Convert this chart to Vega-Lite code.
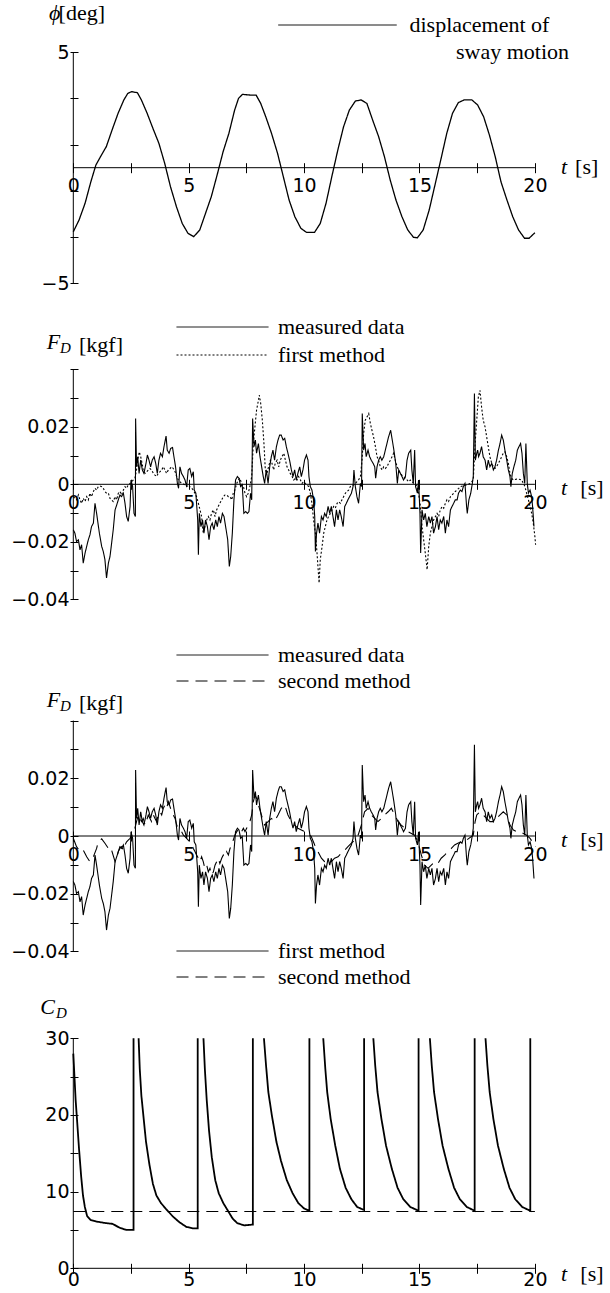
{
"$schema": "https://vega.github.io/schema/vega-lite/v6.json",
"padding": 0,
"background": "white",
"bounds": "flush",
"spacing": 0,
"config": {"view": {"stroke": null}, "line": {"color": "black"}, "rule": {"color": "black"}, "text": {"color": "black"},
  "axis": {"domain": false, "grid": false, "tickColor": "black", "tickWidth": 1, "labelColor": "black", "labelFont": "DejaVu Sans", "labelFontSize": 19, "labelOverlap": false, "labelFlush": false, "labelBound": false}},
"resolve": {"scale": {"x": "independent", "y": "independent", "strokeDash": "independent"}, "axis": {"x": "independent", "y": "independent"}, "legend": {"strokeDash": "independent"}},
"datasets": {
"sway": [{"t":0,"v":-2.77},{"t":0.25,"v":-2.26},{"t":0.51,"v":-1.54},{"t":0.76,"v":-0.61},{"t":0.98,"v":0.12},{"t":1.18,"v":0.48},{"t":1.43,"v":0.91},{"t":1.68,"v":1.63},{"t":1.94,"v":2.35},{"t":2.19,"v":2.93},{"t":2.36,"v":3.21},{"t":2.53,"v":3.29},{"t":2.78,"v":3.24},{"t":2.95,"v":2.93},{"t":3.2,"v":2.35},{"t":3.45,"v":1.7},{"t":3.71,"v":1.05},{"t":3.96,"v":0.19},{"t":4.21,"v":-0.82},{"t":4.47,"v":-1.69},{"t":4.72,"v":-2.41},{"t":4.97,"v":-2.84},{"t":5.22,"v":-2.98},{"t":5.48,"v":-2.69},{"t":5.73,"v":-1.97},{"t":5.98,"v":-1.25},{"t":6.23,"v":-0.32},{"t":6.49,"v":0.69},{"t":6.74,"v":1.48},{"t":6.99,"v":2.49},{"t":7.16,"v":3.0},{"t":7.33,"v":3.17},{"t":7.67,"v":3.14},{"t":7.92,"v":3.14},{"t":8.12,"v":2.78},{"t":8.34,"v":2.2},{"t":8.59,"v":1.48},{"t":8.85,"v":0.62},{"t":9.1,"v":-0.39},{"t":9.35,"v":-1.4},{"t":9.6,"v":-2.12},{"t":9.86,"v":-2.62},{"t":10.11,"v":-2.8},{"t":10.45,"v":-2.8},{"t":10.7,"v":-2.41},{"t":10.95,"v":-1.54},{"t":11.2,"v":-0.39},{"t":11.46,"v":0.76},{"t":11.71,"v":1.77},{"t":11.96,"v":2.49},{"t":12.22,"v":2.88},{"t":12.47,"v":2.93},{"t":12.72,"v":2.78},{"t":12.97,"v":2.06},{"t":13.23,"v":1.34},{"t":13.48,"v":0.48},{"t":13.73,"v":-0.53},{"t":13.98,"v":-1.4},{"t":14.24,"v":-2.12},{"t":14.49,"v":-2.69},{"t":14.74,"v":-3.01},{"t":14.91,"v":-3.03},{"t":15.16,"v":-2.69},{"t":15.42,"v":-1.83},{"t":15.67,"v":-0.75},{"t":15.92,"v":0.33},{"t":16.18,"v":1.48},{"t":16.43,"v":2.35},{"t":16.68,"v":2.81},{"t":16.93,"v":2.93},{"t":17.27,"v":2.93},{"t":17.52,"v":2.71},{"t":17.78,"v":2.2},{"t":18.03,"v":1.41},{"t":18.28,"v":0.48},{"t":18.53,"v":-0.61},{"t":18.79,"v":-1.4},{"t":19.04,"v":-2.12},{"t":19.29,"v":-2.69},{"t":19.55,"v":-3.05},{"t":19.75,"v":-3.05},{"t":20,"v":-2.81}],
"measured": [{"t":0,"v":-0.0158},{"t":0.07,"v":-0.017},{"t":0.14,"v":-0.0199},{"t":0.22,"v":-0.0193},{"t":0.29,"v":-0.0228},{"t":0.36,"v":-0.021},{"t":0.43,"v":-0.0274},{"t":0.51,"v":-0.0239},{"t":0.58,"v":-0.0216},{"t":0.65,"v":-0.0193},{"t":0.72,"v":-0.0176},{"t":0.79,"v":-0.0147},{"t":0.87,"v":-0.0135},{"t":0.94,"v":-0.0066},{"t":1.01,"v":-0.0101},{"t":1.13,"v":-0.017},{"t":1.23,"v":-0.0216},{"t":1.3,"v":-0.0234},{"t":1.37,"v":-0.0262},{"t":1.44,"v":-0.0326},{"t":1.52,"v":-0.0274},{"t":1.59,"v":-0.0251},{"t":1.66,"v":-0.0205},{"t":1.73,"v":-0.0158},{"t":1.81,"v":-0.0089},{"t":1.88,"v":-0.0072},{"t":1.95,"v":-0.0054},{"t":2.02,"v":-0.0037},{"t":2.09,"v":-0.0043},{"t":2.17,"v":-0.0031},{"t":2.24,"v":-0.0066},{"t":2.31,"v":-0.0112},{"t":2.38,"v":-0.0129},{"t":2.46,"v":-0.0077},{"t":2.5,"v":0.0015},{"t":2.57,"v":-0.0008},{"t":2.63,"v":-0.0101},{"t":2.69,"v":-0.0112},{"t":2.7,"v":0.0229},{"t":2.74,"v":0.0061},{"t":2.79,"v":0.0096},{"t":2.85,"v":0.0038},{"t":2.92,"v":0.0084},{"t":2.99,"v":0.005},{"t":3.06,"v":0.0038},{"t":3.15,"v":0.0073},{"t":3.21,"v":0.0102},{"t":3.28,"v":0.0084},{"t":3.35,"v":0.0061},{"t":3.42,"v":0.0084},{"t":3.5,"v":0.0096},{"t":3.57,"v":0.0073},{"t":3.64,"v":0.0038},{"t":3.71,"v":0.0084},{"t":3.78,"v":0.0108},{"t":3.86,"v":0.0096},{"t":3.93,"v":0.0131},{"t":4.02,"v":0.0168},{"t":4.07,"v":0.0119},{"t":4.15,"v":0.0108},{"t":4.22,"v":0.0125},{"t":4.3,"v":0.0128},{"t":4.36,"v":0.0096},{"t":4.43,"v":0.0061},{"t":4.51,"v":0.0003},{"t":4.56,"v":-0.0014},{"t":4.62,"v":0.0061},{"t":4.69,"v":0.0038},{"t":4.77,"v":0.0027},{"t":4.84,"v":0.0015},{"t":4.91,"v":-0.0008},{"t":4.98,"v":0.005},{"t":5.05,"v":0.0055},{"t":5.13,"v":0.0027},{"t":5.2,"v":0.0044},{"t":5.24,"v":-0.002},{"t":5.31,"v":-0.0031},{"t":5.39,"v":-0.0124},{"t":5.42,"v":-0.0245},{"t":5.46,"v":-0.0101},{"t":5.53,"v":-0.0147},{"t":5.6,"v":-0.0124},{"t":5.66,"v":-0.017},{"t":5.73,"v":-0.0124},{"t":5.81,"v":-0.0147},{"t":5.88,"v":-0.0193},{"t":5.95,"v":-0.0147},{"t":6.02,"v":-0.0135},{"t":6.09,"v":-0.0158},{"t":6.17,"v":-0.0124},{"t":6.24,"v":-0.0147},{"t":6.31,"v":-0.0112},{"t":6.38,"v":-0.0135},{"t":6.46,"v":-0.0101},{"t":6.53,"v":-0.0112},{"t":6.6,"v":-0.0147},{"t":6.69,"v":-0.0193},{"t":6.76,"v":-0.0286},{"t":6.82,"v":-0.0251},{"t":6.89,"v":-0.017},{"t":6.96,"v":-0.0054},{"t":7.03,"v":0.0015},{"t":7.11,"v":0.0027},{"t":7.18,"v":0.0021},{"t":7.25,"v":-0.0008},{"t":7.32,"v":-0.0002},{"t":7.39,"v":-0.0101},{"t":7.47,"v":-0.0095},{"t":7.54,"v":-0.0101},{"t":7.61,"v":-0.0095},{"t":7.68,"v":-0.0031},{"t":7.73,"v":-0.0054},{"t":7.77,"v":0.0229},{"t":7.83,"v":0.0131},{"t":7.89,"v":0.0154},{"t":7.94,"v":0.0108},{"t":8.02,"v":0.0142},{"t":8.09,"v":0.0096},{"t":8.16,"v":0.0061},{"t":8.23,"v":0.0027},{"t":8.29,"v":0.0003},{"t":8.36,"v":0.005},{"t":8.44,"v":0.0003},{"t":8.51,"v":0.0061},{"t":8.58,"v":0.0096},{"t":8.65,"v":0.0119},{"t":8.72,"v":0.0084},{"t":8.8,"v":0.0131},{"t":8.87,"v":0.0154},{"t":8.94,"v":0.0171},{"t":9.01,"v":0.0171},{"t":9.09,"v":0.0154},{"t":9.16,"v":0.016},{"t":9.23,"v":0.0131},{"t":9.3,"v":0.0108},{"t":9.37,"v":0.0084},{"t":9.45,"v":0.005},{"t":9.52,"v":0.0027},{"t":9.59,"v":0.005},{"t":9.66,"v":0.0015},{"t":9.73,"v":0.0038},{"t":9.81,"v":0.0061},{"t":9.88,"v":0.0027},{"t":9.95,"v":0.005},{"t":10.02,"v":0.0084},{"t":10.1,"v":0.0102},{"t":10.17,"v":0.0084},{"t":10.21,"v":0.0027},{"t":10.27,"v":-0.0008},{"t":10.34,"v":-0.002},{"t":10.41,"v":-0.0054},{"t":10.46,"v":-0.0112},{"t":10.49,"v":-0.0234},{"t":10.54,"v":-0.017},{"t":10.6,"v":-0.0135},{"t":10.67,"v":-0.017},{"t":10.75,"v":-0.0112},{"t":10.82,"v":-0.0124},{"t":10.89,"v":-0.0101},{"t":10.96,"v":-0.0112},{"t":11.04,"v":-0.0077},{"t":11.11,"v":-0.0101},{"t":11.18,"v":-0.0077},{"t":11.25,"v":-0.0112},{"t":11.32,"v":-0.0147},{"t":11.4,"v":-0.0089},{"t":11.47,"v":-0.0124},{"t":11.54,"v":-0.0089},{"t":11.61,"v":-0.0112},{"t":11.69,"v":-0.0147},{"t":11.76,"v":-0.0077},{"t":11.83,"v":-0.0066},{"t":11.9,"v":-0.0054},{"t":11.97,"v":-0.0043},{"t":12.05,"v":-0.0031},{"t":12.12,"v":-0.0008},{"t":12.16,"v":0.005},{"t":12.22,"v":-0.0008},{"t":12.29,"v":-0.0043},{"t":12.36,"v":-0.0066},{"t":12.44,"v":0.0003},{"t":12.49,"v":-0.0008},{"t":12.52,"v":0.0246},{"t":12.58,"v":0.0119},{"t":12.64,"v":0.0142},{"t":12.69,"v":0.0096},{"t":12.77,"v":0.0119},{"t":12.84,"v":0.0096},{"t":12.91,"v":0.0084},{"t":12.99,"v":0.0073},{"t":13.06,"v":0.0061},{"t":13.1,"v":0.0021},{"t":13.16,"v":0.0061},{"t":13.23,"v":0.0084},{"t":13.3,"v":0.0096},{"t":13.37,"v":0.0084},{"t":13.45,"v":0.0096},{"t":13.52,"v":0.0119},{"t":13.59,"v":0.0142},{"t":13.66,"v":0.0165},{"t":13.75,"v":0.0188},{"t":13.82,"v":0.0154},{"t":13.89,"v":0.0119},{"t":13.97,"v":0.0073},{"t":14.04,"v":0.0003},{"t":14.1,"v":0.005},{"t":14.17,"v":0.0038},{"t":14.24,"v":0.0027},{"t":14.31,"v":0.0015},{"t":14.39,"v":0.0027},{"t":14.46,"v":0.0084},{"t":14.53,"v":0.0108},{"t":14.62,"v":0.0119},{"t":14.67,"v":0.005},{"t":14.73,"v":0.0003},{"t":14.79,"v":0.0119},{"t":14.83,"v":-0.0008},{"t":14.91,"v":-0.0031},{"t":14.96,"v":0.0015},{"t":15.02,"v":-0.0101},{"t":15.05,"v":-0.0239},{"t":15.11,"v":-0.0089},{"t":15.18,"v":-0.0124},{"t":15.25,"v":-0.0101},{"t":15.32,"v":-0.0147},{"t":15.4,"v":-0.0112},{"t":15.47,"v":-0.0135},{"t":15.54,"v":-0.0112},{"t":15.61,"v":-0.017},{"t":15.69,"v":-0.0147},{"t":15.76,"v":-0.0112},{"t":15.83,"v":-0.0158},{"t":15.9,"v":-0.0124},{"t":15.97,"v":-0.0135},{"t":16.05,"v":-0.0112},{"t":16.12,"v":-0.017},{"t":16.19,"v":-0.0124},{"t":16.26,"v":-0.0147},{"t":16.34,"v":-0.0089},{"t":16.41,"v":-0.0077},{"t":16.48,"v":-0.0066},{"t":16.55,"v":-0.0054},{"t":16.63,"v":-0.0054},{"t":16.69,"v":-0.0031},{"t":16.77,"v":-0.002},{"t":16.84,"v":-0.0025},{"t":16.9,"v":-0.0008},{"t":16.97,"v":0.0003},{"t":17.04,"v":-0.0077},{"t":17.07,"v":-0.0101},{"t":17.14,"v":-0.0054},{"t":17.22,"v":-0.0031},{"t":17.29,"v":0.0003},{"t":17.33,"v":0.0027},{"t":17.38,"v":0.0316},{"t":17.42,"v":0.0084},{"t":17.48,"v":0.0108},{"t":17.52,"v":0.0119},{"t":17.56,"v":0.0096},{"t":17.62,"v":0.0108},{"t":17.69,"v":0.0131},{"t":17.76,"v":0.0096},{"t":17.84,"v":0.0084},{"t":17.91,"v":0.005},{"t":17.98,"v":0.0084},{"t":18.05,"v":0.0061},{"t":18.13,"v":0.0073},{"t":18.2,"v":0.005},{"t":18.27,"v":0.0061},{"t":18.34,"v":0.0084},{"t":18.42,"v":0.0119},{"t":18.49,"v":0.0142},{"t":18.56,"v":0.0171},{"t":18.63,"v":0.0154},{"t":18.7,"v":0.0119},{"t":18.78,"v":0.0084},{"t":18.85,"v":0.005},{"t":18.92,"v":0.0027},{"t":18.96,"v":-0.0008},{"t":19.02,"v":0.0038},{"t":19.09,"v":0.0061},{"t":19.17,"v":0.0084},{"t":19.24,"v":0.0119},{"t":19.31,"v":0.0131},{"t":19.38,"v":0.0142},{"t":19.44,"v":0.0108},{"t":19.5,"v":0.0038},{"t":19.56,"v":0.0003},{"t":19.61,"v":0.0142},{"t":19.67,"v":0.0003},{"t":19.72,"v":-0.0031},{"t":19.79,"v":-0.002},{"t":19.86,"v":-0.0043},{"t":19.9,"v":-0.0077},{"t":19.96,"v":-0.0147}],
"first": [{"t":0,"v":-0.0043},{"t":0.14,"v":-0.0054},{"t":0.22,"v":-0.0037},{"t":0.29,"v":-0.0054},{"t":0.36,"v":-0.0066},{"t":0.43,"v":-0.0049},{"t":0.51,"v":-0.006},{"t":0.58,"v":-0.0043},{"t":0.65,"v":-0.0054},{"t":0.72,"v":-0.0031},{"t":0.79,"v":-0.0043},{"t":0.87,"v":-0.0025},{"t":0.94,"v":-0.0014},{"t":1.01,"v":-0.002},{"t":1.08,"v":-0.0008},{"t":1.16,"v":-0.0006},{"t":1.23,"v":-0.0008},{"t":1.3,"v":-0.0014},{"t":1.37,"v":-0.0025},{"t":1.44,"v":-0.0031},{"t":1.52,"v":-0.0031},{"t":1.59,"v":-0.0049},{"t":1.66,"v":-0.0054},{"t":1.73,"v":-0.006},{"t":1.81,"v":-0.0043},{"t":1.88,"v":-0.0054},{"t":1.95,"v":-0.0031},{"t":2.02,"v":-0.0025},{"t":2.09,"v":-0.0037},{"t":2.17,"v":-0.002},{"t":2.24,"v":-0.0008},{"t":2.31,"v":-0.0014},{"t":2.38,"v":-0.0002},{"t":2.46,"v":0.0003},{"t":2.53,"v":0.0009},{"t":2.6,"v":0.0015},{"t":2.67,"v":0.0021},{"t":2.74,"v":0.005},{"t":2.79,"v":0.0084},{"t":2.86,"v":0.0113},{"t":2.92,"v":0.0096},{"t":2.98,"v":0.0073},{"t":3.03,"v":0.005},{"t":3.11,"v":0.0038},{"t":3.18,"v":0.0044},{"t":3.25,"v":0.005},{"t":3.32,"v":0.0055},{"t":3.39,"v":0.005},{"t":3.47,"v":0.0038},{"t":3.54,"v":0.0032},{"t":3.61,"v":0.0027},{"t":3.68,"v":0.0038},{"t":3.76,"v":0.0044},{"t":3.83,"v":0.005},{"t":3.9,"v":0.0061},{"t":3.97,"v":0.005},{"t":4.04,"v":0.0038},{"t":4.12,"v":0.005},{"t":4.19,"v":0.0055},{"t":4.26,"v":0.0061},{"t":4.33,"v":0.0055},{"t":4.41,"v":0.0044},{"t":4.48,"v":0.0027},{"t":4.55,"v":0.0015},{"t":4.62,"v":0.0009},{"t":4.69,"v":0.0003},{"t":4.77,"v":0.0001},{"t":4.84,"v":-0.0002},{"t":4.91,"v":-0.0008},{"t":4.98,"v":-0.0002},{"t":5.05,"v":-0.0008},{"t":5.13,"v":-0.0014},{"t":5.2,"v":-0.002},{"t":5.27,"v":-0.0031},{"t":5.34,"v":-0.0043},{"t":5.42,"v":-0.0066},{"t":5.49,"v":-0.0089},{"t":5.56,"v":-0.0112},{"t":5.63,"v":-0.017},{"t":5.7,"v":-0.0147},{"t":5.78,"v":-0.0124},{"t":5.85,"v":-0.0112},{"t":5.92,"v":-0.0124},{"t":5.99,"v":-0.0101},{"t":6.07,"v":-0.0089},{"t":6.14,"v":-0.0112},{"t":6.21,"v":-0.0089},{"t":6.28,"v":-0.0077},{"t":6.35,"v":-0.0066},{"t":6.43,"v":-0.0054},{"t":6.5,"v":-0.0043},{"t":6.57,"v":-0.0037},{"t":6.64,"v":-0.0037},{"t":6.72,"v":-0.0043},{"t":6.79,"v":-0.0043},{"t":6.86,"v":-0.0054},{"t":6.93,"v":-0.0031},{"t":7.0,"v":-0.002},{"t":7.08,"v":0.0003},{"t":7.15,"v":0.0015},{"t":7.22,"v":0.0021},{"t":7.29,"v":0.0003},{"t":7.37,"v":-0.0008},{"t":7.44,"v":-0.0031},{"t":7.51,"v":-0.0043},{"t":7.58,"v":-0.0031},{"t":7.65,"v":-0.0008},{"t":7.73,"v":0.0027},{"t":7.8,"v":0.0142},{"t":7.87,"v":0.02},{"t":7.94,"v":0.0258},{"t":8.02,"v":0.0292},{"t":8.06,"v":0.031},{"t":8.12,"v":0.0281},{"t":8.19,"v":0.0223},{"t":8.26,"v":0.0142},{"t":8.32,"v":0.005},{"t":8.39,"v":0.0038},{"t":8.46,"v":0.0061},{"t":8.54,"v":0.0084},{"t":8.61,"v":0.0073},{"t":8.68,"v":0.005},{"t":8.75,"v":0.0073},{"t":8.83,"v":0.0084},{"t":8.9,"v":0.0061},{"t":8.97,"v":0.0084},{"t":9.04,"v":0.0096},{"t":9.12,"v":0.0108},{"t":9.19,"v":0.0084},{"t":9.26,"v":0.0061},{"t":9.33,"v":0.005},{"t":9.4,"v":0.0038},{"t":9.48,"v":0.0027},{"t":9.55,"v":0.0015},{"t":9.62,"v":0.0021},{"t":9.69,"v":0.0015},{"t":9.76,"v":0.0027},{"t":9.84,"v":0.0015},{"t":9.91,"v":0.0003},{"t":9.98,"v":0.0009},{"t":10.05,"v":0.0003},{"t":10.13,"v":-0.0002},{"t":10.2,"v":-0.0008},{"t":10.27,"v":-0.0031},{"t":10.34,"v":-0.0066},{"t":10.41,"v":-0.0124},{"t":10.49,"v":-0.017},{"t":10.56,"v":-0.0239},{"t":10.6,"v":-0.0286},{"t":10.65,"v":-0.0343},{"t":10.7,"v":-0.0262},{"t":10.78,"v":-0.0216},{"t":10.85,"v":-0.017},{"t":10.92,"v":-0.0147},{"t":10.99,"v":-0.0124},{"t":11.06,"v":-0.0112},{"t":11.14,"v":-0.0101},{"t":11.21,"v":-0.0089},{"t":11.28,"v":-0.0077},{"t":11.35,"v":-0.0083},{"t":11.43,"v":-0.0066},{"t":11.5,"v":-0.006},{"t":11.57,"v":-0.0066},{"t":11.64,"v":-0.0054},{"t":11.71,"v":-0.0043},{"t":11.79,"v":-0.0031},{"t":11.86,"v":-0.0025},{"t":11.93,"v":-0.002},{"t":12.0,"v":-0.0008},{"t":12.07,"v":-0.0006},{"t":12.15,"v":-0.0002},{"t":12.22,"v":0.0003},{"t":12.29,"v":0.0009},{"t":12.36,"v":0.0015},{"t":12.44,"v":0.0027},{"t":12.51,"v":0.0084},{"t":12.58,"v":0.0177},{"t":12.65,"v":0.0223},{"t":12.73,"v":0.0235},{"t":12.8,"v":0.0246},{"t":12.87,"v":0.0212},{"t":12.94,"v":0.0188},{"t":13.01,"v":0.0165},{"t":13.09,"v":0.0131},{"t":13.16,"v":0.0096},{"t":13.23,"v":0.0084},{"t":13.3,"v":0.0061},{"t":13.38,"v":0.005},{"t":13.45,"v":0.0061},{"t":13.52,"v":0.0055},{"t":13.59,"v":0.0061},{"t":13.66,"v":0.0073},{"t":13.74,"v":0.0084},{"t":13.81,"v":0.0096},{"t":13.88,"v":0.0108},{"t":13.95,"v":0.0084},{"t":14.03,"v":0.0061},{"t":14.1,"v":0.005},{"t":14.17,"v":0.0038},{"t":14.24,"v":0.0032},{"t":14.31,"v":0.0027},{"t":14.39,"v":0.0021},{"t":14.46,"v":0.0015},{"t":14.53,"v":0.0009},{"t":14.6,"v":0.0015},{"t":14.68,"v":0.0009},{"t":14.75,"v":0.0003},{"t":14.82,"v":0.0001},{"t":14.89,"v":-0.0008},{"t":14.96,"v":-0.0031},{"t":15.04,"v":-0.0077},{"t":15.11,"v":-0.0147},{"t":15.18,"v":-0.0193},{"t":15.25,"v":-0.0239},{"t":15.33,"v":-0.0297},{"t":15.4,"v":-0.0216},{"t":15.47,"v":-0.017},{"t":15.54,"v":-0.0147},{"t":15.61,"v":-0.0124},{"t":15.69,"v":-0.0112},{"t":15.76,"v":-0.0101},{"t":15.83,"v":-0.0112},{"t":15.9,"v":-0.0089},{"t":15.98,"v":-0.0077},{"t":16.05,"v":-0.0083},{"t":16.12,"v":-0.0066},{"t":16.19,"v":-0.0054},{"t":16.26,"v":-0.006},{"t":16.34,"v":-0.0043},{"t":16.41,"v":-0.0037},{"t":16.48,"v":-0.0031},{"t":16.55,"v":-0.0025},{"t":16.62,"v":-0.002},{"t":16.7,"v":-0.0014},{"t":16.77,"v":-0.0008},{"t":17.04,"v":-0.0002},{"t":17.19,"v":0.0003},{"t":17.33,"v":0.0015},{"t":17.41,"v":0.0142},{"t":17.48,"v":0.0223},{"t":17.55,"v":0.0304},{"t":17.62,"v":0.0327},{"t":17.69,"v":0.0269},{"t":17.76,"v":0.0223},{"t":17.84,"v":0.02},{"t":17.91,"v":0.0165},{"t":17.98,"v":0.0131},{"t":18.05,"v":0.0096},{"t":18.13,"v":0.0073},{"t":18.2,"v":0.0061},{"t":18.27,"v":0.0055},{"t":18.34,"v":0.0061},{"t":18.42,"v":0.0073},{"t":18.49,"v":0.0084},{"t":18.56,"v":0.0096},{"t":18.63,"v":0.0108},{"t":18.7,"v":0.0113},{"t":18.78,"v":0.0096},{"t":18.85,"v":0.0073},{"t":18.92,"v":0.0038},{"t":18.99,"v":0.0021},{"t":19.07,"v":0.0015},{"t":19.14,"v":0.0017},{"t":19.21,"v":0.0018},{"t":19.28,"v":0.0018},{"t":19.36,"v":0.0017},{"t":19.43,"v":0.0015},{"t":19.5,"v":0.0003},{"t":19.57,"v":-0.0008},{"t":19.64,"v":-0.0031},{"t":19.72,"v":-0.0054},{"t":19.79,"v":-0.0077},{"t":19.86,"v":-0.0101},{"t":19.93,"v":-0.0135},{"t":20.0,"v":-0.0182},{"t":20.03,"v":-0.021}],
"second": [{"t":0,"v":-0.0008},{"t":0.14,"v":-0.0037},{"t":0.29,"v":-0.0054},{"t":0.43,"v":-0.0049},{"t":0.58,"v":-0.0072},{"t":0.72,"v":-0.0089},{"t":0.87,"v":-0.0072},{"t":1.01,"v":-0.0043},{"t":1.08,"v":-0.002},{"t":1.23,"v":-0.001},{"t":1.37,"v":-0.0025},{"t":1.52,"v":-0.0043},{"t":1.59,"v":-0.0054},{"t":1.66,"v":-0.0049},{"t":1.81,"v":-0.0089},{"t":1.88,"v":-0.0077},{"t":1.95,"v":-0.0054},{"t":2.02,"v":-0.0043},{"t":2.09,"v":-0.0037},{"t":2.17,"v":-0.0049},{"t":2.24,"v":-0.0031},{"t":2.31,"v":-0.002},{"t":2.38,"v":-0.0014},{"t":2.46,"v":-0.0008},{"t":2.53,"v":0.0003},{"t":2.6,"v":0.0009},{"t":2.67,"v":0.0027},{"t":2.74,"v":0.005},{"t":2.82,"v":0.0073},{"t":2.89,"v":0.0061},{"t":2.96,"v":0.005},{"t":3.03,"v":0.0061},{"t":3.11,"v":0.0038},{"t":3.18,"v":0.0055},{"t":3.25,"v":0.0073},{"t":3.32,"v":0.0061},{"t":3.39,"v":0.005},{"t":3.47,"v":0.0073},{"t":3.54,"v":0.0061},{"t":3.61,"v":0.005},{"t":3.68,"v":0.0073},{"t":3.76,"v":0.0084},{"t":3.83,"v":0.0073},{"t":3.9,"v":0.0096},{"t":3.97,"v":0.0108},{"t":4.04,"v":0.0096},{"t":4.12,"v":0.0119},{"t":4.19,"v":0.0102},{"t":4.26,"v":0.0084},{"t":4.33,"v":0.0073},{"t":4.41,"v":0.0061},{"t":4.48,"v":0.0038},{"t":4.55,"v":0.0027},{"t":4.62,"v":0.0021},{"t":4.69,"v":0.0015},{"t":4.77,"v":0.0003},{"t":4.84,"v":-0.0002},{"t":4.91,"v":-0.0008},{"t":4.98,"v":-0.0014},{"t":5.05,"v":-0.002},{"t":5.13,"v":-0.0031},{"t":5.2,"v":-0.0043},{"t":5.27,"v":-0.0054},{"t":5.34,"v":-0.0066},{"t":5.42,"v":-0.0077},{"t":5.49,"v":-0.0089},{"t":5.56,"v":-0.0072},{"t":5.63,"v":-0.0089},{"t":5.7,"v":-0.0112},{"t":5.78,"v":-0.0101},{"t":5.85,"v":-0.0124},{"t":5.92,"v":-0.0112},{"t":5.99,"v":-0.0135},{"t":6.07,"v":-0.0124},{"t":6.14,"v":-0.0101},{"t":6.21,"v":-0.0089},{"t":6.28,"v":-0.0077},{"t":6.35,"v":-0.0095},{"t":6.43,"v":-0.0077},{"t":6.5,"v":-0.0066},{"t":6.57,"v":-0.0072},{"t":6.64,"v":-0.0054},{"t":6.72,"v":-0.0066},{"t":6.79,"v":-0.0043},{"t":6.86,"v":-0.0031},{"t":6.93,"v":-0.0014},{"t":7.0,"v":0.0003},{"t":7.08,"v":0.0015},{"t":7.15,"v":0.0021},{"t":7.22,"v":0.0009},{"t":7.29,"v":0.0015},{"t":7.37,"v":0.0027},{"t":7.44,"v":0.0015},{"t":7.51,"v":0.0027},{"t":7.58,"v":0.0038},{"t":7.65,"v":0.005},{"t":7.73,"v":0.0073},{"t":7.8,"v":0.0119},{"t":7.87,"v":0.0142},{"t":7.94,"v":0.0131},{"t":8.02,"v":0.0108},{"t":8.15,"v":0.0073},{"t":8.29,"v":0.0038},{"t":8.44,"v":0.005},{"t":8.58,"v":0.0061},{"t":8.72,"v":0.005},{"t":8.87,"v":0.0073},{"t":9.01,"v":0.0096},{"t":9.16,"v":0.0108},{"t":9.3,"v":0.0073},{"t":9.45,"v":0.005},{"t":9.59,"v":0.0038},{"t":9.73,"v":0.0027},{"t":9.88,"v":0.0021},{"t":10.02,"v":0.0015},{"t":10.17,"v":0.0009},{"t":10.31,"v":-0.0002},{"t":10.46,"v":-0.0031},{"t":10.6,"v":-0.0054},{"t":10.75,"v":-0.0077},{"t":10.89,"v":-0.0089},{"t":11.04,"v":-0.0095},{"t":11.18,"v":-0.0089},{"t":11.32,"v":-0.0077},{"t":11.47,"v":-0.0072},{"t":11.61,"v":-0.006},{"t":11.76,"v":-0.0049},{"t":11.9,"v":-0.0037},{"t":12.05,"v":-0.0025},{"t":12.19,"v":-0.0014},{"t":12.34,"v":0.0003},{"t":12.48,"v":0.0038},{"t":12.62,"v":0.0084},{"t":12.77,"v":0.0096},{"t":12.91,"v":0.0073},{"t":13.06,"v":0.0061},{"t":13.2,"v":0.005},{"t":13.35,"v":0.0061},{"t":13.49,"v":0.0073},{"t":13.64,"v":0.0084},{"t":13.78,"v":0.0096},{"t":13.93,"v":0.0073},{"t":14.07,"v":0.005},{"t":14.21,"v":0.0038},{"t":14.36,"v":0.0027},{"t":14.5,"v":0.0015},{"t":14.65,"v":0.0009},{"t":14.79,"v":0.0003},{"t":14.93,"v":-0.002},{"t":15.08,"v":-0.0066},{"t":15.22,"v":-0.0101},{"t":15.37,"v":-0.0112},{"t":15.51,"v":-0.0101},{"t":15.66,"v":-0.0089},{"t":15.8,"v":-0.0095},{"t":15.94,"v":-0.0077},{"t":16.09,"v":-0.0066},{"t":16.23,"v":-0.0054},{"t":16.38,"v":-0.0043},{"t":16.52,"v":-0.0031},{"t":16.66,"v":-0.0025},{"t":16.81,"v":-0.002},{"t":17.04,"v":-0.0014},{"t":17.33,"v":0.0003},{"t":17.41,"v":0.005},{"t":17.48,"v":0.0073},{"t":17.62,"v":0.0084},{"t":17.76,"v":0.0073},{"t":17.91,"v":0.0061},{"t":18.05,"v":0.005},{"t":18.2,"v":0.005},{"t":18.34,"v":0.0061},{"t":18.49,"v":0.0073},{"t":18.63,"v":0.0084},{"t":18.78,"v":0.0073},{"t":18.92,"v":0.0038},{"t":19.07,"v":0.0021},{"t":19.21,"v":0.0015},{"t":19.36,"v":0.0013},{"t":19.5,"v":0.0009},{"t":19.64,"v":0.0003},{"t":19.79,"v":-0.0008},{"t":19.93,"v":-0.0025},{"t":20.03,"v":-0.0037}],
"cd1": [{"seg":0,"t":0,"v":28},{"seg":0,"t":0.05,"v":25},{"seg":0,"t":0.1,"v":22},{"seg":0,"t":0.17,"v":19},{"seg":0,"t":0.25,"v":15.5},{"seg":0,"t":0.34,"v":12},{"seg":0,"t":0.42,"v":9.5},{"seg":0,"t":0.5,"v":8},{"seg":0,"t":0.6,"v":6.8},{"seg":0,"t":0.75,"v":6.3},{"seg":0,"t":1.0,"v":6.1},{"seg":0,"t":1.4,"v":5.9},{"seg":0,"t":1.7,"v":5.8},{"seg":0,"t":2.0,"v":5.3},{"seg":0,"t":2.3,"v":5.0},{"seg":0,"t":2.61,"v":5.0},{"seg":0,"t":2.61,"v":30},
{"seg":1,"t":2.83,"v":30},{"seg":1,"t":2.88,"v":26},{"seg":1,"t":2.95,"v":22.5},{"seg":1,"t":3.05,"v":19.5},{"seg":1,"t":3.15,"v":16.5},{"seg":1,"t":3.3,"v":13.5},{"seg":1,"t":3.45,"v":11},{"seg":1,"t":3.6,"v":9.5},{"seg":1,"t":3.8,"v":8.5},{"seg":1,"t":4.0,"v":7.8},{"seg":1,"t":4.3,"v":6.8},{"seg":1,"t":4.6,"v":6.0},{"seg":1,"t":4.9,"v":5.4},{"seg":1,"t":5.2,"v":5.2},{"seg":1,"t":5.39,"v":5.2},{"seg":1,"t":5.39,"v":30},
{"seg":2,"t":5.64,"v":30},{"seg":2,"t":5.7,"v":26},{"seg":2,"t":5.78,"v":22},{"seg":2,"t":5.88,"v":18},{"seg":2,"t":6.0,"v":14.5},{"seg":2,"t":6.15,"v":11.5},{"seg":2,"t":6.3,"v":9.8},{"seg":2,"t":6.5,"v":8.5},{"seg":2,"t":6.7,"v":7.5},{"seg":2,"t":6.9,"v":6.5},{"seg":2,"t":7.1,"v":5.9},{"seg":2,"t":7.4,"v":5.6},{"seg":2,"t":7.78,"v":5.7},{"seg":2,"t":7.78,"v":30},
{"seg":3,"t":8.26,"v":30},{"seg":3,"t":8.35,"v":26.5},{"seg":3,"t":8.45,"v":23},{"seg":3,"t":8.6,"v":20},{"seg":3,"t":8.8,"v":16.5},{"seg":3,"t":9.0,"v":14},{"seg":3,"t":9.25,"v":11.5},{"seg":3,"t":9.5,"v":9.8},{"seg":3,"t":9.75,"v":8.5},{"seg":3,"t":10.0,"v":7.8},{"seg":3,"t":10.23,"v":7.5},{"seg":3,"t":10.23,"v":30},
{"seg":4,"t":10.83,"v":30},{"seg":4,"t":10.92,"v":26},{"seg":4,"t":11.0,"v":23},{"seg":4,"t":11.15,"v":19.5},{"seg":4,"t":11.35,"v":16},{"seg":4,"t":11.55,"v":13},{"seg":4,"t":11.8,"v":10.5},{"seg":4,"t":12.05,"v":9},{"seg":4,"t":12.3,"v":8},{"seg":4,"t":12.6,"v":7.6},{"seg":4,"t":12.6,"v":30},
{"seg":5,"t":13.0,"v":30},{"seg":5,"t":13.08,"v":26.5},{"seg":5,"t":13.18,"v":23},{"seg":5,"t":13.35,"v":19.5},{"seg":5,"t":13.55,"v":16},{"seg":5,"t":13.8,"v":13},{"seg":5,"t":14.05,"v":10.5},{"seg":5,"t":14.3,"v":9},{"seg":5,"t":14.6,"v":8},{"seg":5,"t":14.96,"v":7.5},{"seg":5,"t":14.96,"v":30},
{"seg":6,"t":15.45,"v":30},{"seg":6,"t":15.53,"v":26.5},{"seg":6,"t":15.63,"v":23},{"seg":6,"t":15.8,"v":19.5},{"seg":6,"t":16.0,"v":16},{"seg":6,"t":16.25,"v":13},{"seg":6,"t":16.5,"v":10.5},{"seg":6,"t":16.75,"v":9},{"seg":6,"t":17.05,"v":8},{"seg":6,"t":17.39,"v":7.5},{"seg":6,"t":17.39,"v":30},
{"seg":7,"t":17.86,"v":30},{"seg":7,"t":17.94,"v":26.5},{"seg":7,"t":18.04,"v":23},{"seg":7,"t":18.2,"v":19.5},{"seg":7,"t":18.4,"v":16},{"seg":7,"t":18.65,"v":13},{"seg":7,"t":18.9,"v":10.5},{"seg":7,"t":19.15,"v":9},{"seg":7,"t":19.45,"v":8},{"seg":7,"t":19.8,"v":7.5},{"seg":7,"t":19.8,"v":30}],
"cd2": [{"t":0,"v":7.4},{"t":20,"v":7.4}]
},
"vconcat": [
{"width": 610, "height": 305, "layer": [
 {"data": {"name": "sway"}, "mark": {"type": "line", "strokeWidth": 1.3},
  "encoding": {
   "x": {"field": "t", "type": "quantitative", "scale": {"domain": [-3.176, 23.254], "nice": false, "zero": false},
     "axis": {"orient": "bottom", "offset": -142.3, "values": [0,2.5,5,7.5,10,12.5,15,17.5,20], "tickSize": 10, "labelPadding": 4, "labelExpr": "datum.value % 5 == 0 ? '' + datum.value : ''", "title": null}},
   "y": {"field": "v", "type": "quantitative", "scale": {"domain": [-5.936, 7.25], "nice": false, "zero": false},
     "axis": {"orient": "left", "offset": -78, "values": [-5,-4,-3,-2,-1,0,1,2,3,4,5], "tickSize": 8, "labelPadding": 1, "labelExpr": "datum.value == 5 ? '5' : datum.value == 0 ? '0' : datum.value == -5 ? '−5' : ''", "title": null}},
   "strokeDash": {"datum": "displacement of", "type": "nominal", "scale": {"domain": ["displacement of"], "range": [[1,0]]},
     "legend": {"orient": "none", "legendX": 277.5, "legendY": 11, "title": null, "symbolType": "stroke", "symbolSize": 14042, "symbolStrokeWidth": 1, "symbolStrokeColor": "black", "labelFont": "Liberation Serif", "labelFontSize": 22, "labelColor": "black", "labelOffset": 12, "labelLimit": 400, "clipHeight": 28, "padding": 0, "rowPadding": 0}}
  }},
 {"data": {"values": [{}]}, "mark": {"type": "rule", "strokeWidth": 1}, "encoding": {"x": {"datum": 0}, "y": {"datum": -5}, "y2": {"datum": 5}}},
 {"data": {"values": [{}]}, "mark": {"type": "rule", "strokeWidth": 1}, "encoding": {"x": {"datum": 0}, "x2": {"datum": 20}, "y": {"datum": 0}}},
 {"data": {"values": [{}]}, "mark": {"type": "text", "text": "ϕ", "font": "Liberation Serif", "fontSize": 22, "fontStyle": "italic", "align": "left", "baseline": "middle"}, "encoding": {"x": {"datum": -1.05}, "y": {"datum": 6.675}}},
 {"data": {"values": [{}]}, "mark": {"type": "text", "text": "[deg]", "font": "Liberation Serif", "fontSize": 22, "align": "left", "baseline": "middle"}, "encoding": {"x": {"datum": -0.637}, "y": {"datum": 6.675}}},
 {"data": {"values": [{}]}, "mark": {"type": "text", "text": "sway motion", "font": "Liberation Serif", "fontSize": 22, "align": "left", "baseline": "middle"}, "encoding": {"x": {"datum": 16.58}, "y": {"datum": 5.0}}},
 {"data": {"values": [{}]}, "mark": {"type": "text", "text": "t", "font": "Liberation Serif", "fontSize": 22, "fontStyle": "italic", "align": "left", "baseline": "middle"}, "encoding": {"x": {"datum": 21.13}, "y": {"datum": 0.05}}},
 {"data": {"values": [{}]}, "mark": {"type": "text", "text": "[s]", "font": "Liberation Serif", "fontSize": 22, "align": "left", "baseline": "middle"}, "encoding": {"x": {"datum": 21.74}, "y": {"datum": 0.05}}}
]},
{"width": 610, "height": 323, "layer": [
 {"data": {"name": "measured"}, "mark": {"type": "line", "strokeWidth": 1.1},
  "encoding": {
   "x": {"field": "t", "type": "quantitative", "scale": {"domain": [-3.176, 23.254], "nice": false, "zero": false},
     "axis": {"orient": "bottom", "offset": -148.7, "values": [0,2.5,5,7.5,10,12.5,15,17.5,20], "tickSize": 10, "labelPadding": 4, "labelExpr": "datum.value % 5 == 0 ? '' + datum.value : ''", "title": null}},
   "y": {"field": "v", "type": "quantitative", "scale": {"domain": [-0.04998, 0.06237], "nice": false, "zero": false},
     "axis": {"orient": "left", "offset": -78, "values": [-0.04,-0.03,-0.02,-0.01,0,0.01,0.02,0.03,0.04], "tickSize": 8, "labelPadding": 1, "labelExpr": "abs(datum.value - 0.02) < 1e-6 ? '0.02' : abs(datum.value) < 1e-6 ? '0' : abs(datum.value + 0.02) < 1e-6 ? '−0.02' : abs(datum.value + 0.04) < 1e-6 ? '−0.04' : ''", "title": null}},
   "strokeDash": {"datum": "measured data", "type": "nominal", "scale": {"domain": ["measured data", "first method"], "range": [[1,0],[2,2]]},
     "legend": {"orient": "none", "legendX": 176, "legendY": 8, "title": null, "symbolType": "stroke", "symbolSize": 8464, "symbolStrokeWidth": 1, "symbolStrokeColor": "black", "labelFont": "Liberation Serif", "labelFontSize": 22, "labelColor": "black", "labelOffset": 9, "labelLimit": 400, "clipHeight": 28, "padding": 0, "rowPadding": 0}}
  }},
 {"data": {"name": "first"}, "mark": {"type": "line", "strokeWidth": 1.1}, "encoding": {"x": {"field": "t", "type": "quantitative"}, "y": {"field": "v", "type": "quantitative"}, "strokeDash": {"datum": "first method", "type": "nominal"}}},
 {"data": {"values": [{}]}, "mark": {"type": "rule", "strokeWidth": 1}, "encoding": {"x": {"datum": 0}, "y": {"datum": -0.04}, "y2": {"datum": 0.04}}},
 {"data": {"values": [{}]}, "mark": {"type": "rule", "strokeWidth": 1}, "encoding": {"x": {"datum": 0}, "x2": {"datum": 20}, "y": {"datum": 0}}},
 {"data": {"values": [{}]}, "mark": {"type": "text", "text": "F", "font": "Liberation Serif", "fontSize": 22, "fontStyle": "italic", "align": "left", "baseline": "middle"}, "encoding": {"x": {"datum": -1.153}, "y": {"datum": 0.0496}}},
 {"data": {"values": [{}]}, "mark": {"type": "text", "text": "D", "font": "Liberation Serif", "fontSize": 15, "fontStyle": "italic", "align": "left", "baseline": "middle"}, "encoding": {"x": {"datum": -0.576}, "y": {"datum": 0.0474}}},
 {"data": {"values": [{}]}, "mark": {"type": "text", "text": "[kgf]", "font": "Liberation Serif", "fontSize": 22, "align": "left", "baseline": "middle"}, "encoding": {"x": {"datum": 0.247}, "y": {"datum": 0.0486}}},
 {"data": {"values": [{}]}, "mark": {"type": "text", "text": "t", "font": "Liberation Serif", "fontSize": 22, "fontStyle": "italic", "align": "left", "baseline": "middle"}, "encoding": {"x": {"datum": 21.13}, "y": {"datum": -0.0013}}},
 {"data": {"values": [{}]}, "mark": {"type": "text", "text": "[s]", "font": "Liberation Serif", "fontSize": 22, "align": "left", "baseline": "middle"}, "encoding": {"x": {"datum": 21.97}, "y": {"datum": -0.0013}}}
]},
{"width": 610, "height": 337, "layer": [
 {"data": {"name": "measured"}, "mark": {"type": "line", "strokeWidth": 1.1},
  "encoding": {
   "x": {"field": "t", "type": "quantitative", "scale": {"domain": [-3.176, 23.254], "nice": false, "zero": false},
     "axis": {"orient": "bottom", "offset": -134, "values": [0,2.5,5,7.5,10,12.5,15,17.5,20], "tickSize": 10, "labelPadding": 4, "labelExpr": "datum.value % 5 == 0 ? '' + datum.value : ''", "title": null}},
   "y": {"field": "v", "type": "quantitative", "scale": {"domain": [-0.04471, 0.0721], "nice": false, "zero": false},
     "axis": {"orient": "left", "offset": -78, "values": [-0.04,-0.03,-0.02,-0.01,0,0.01,0.02,0.03,0.04], "tickSize": 8, "labelPadding": 1, "labelExpr": "abs(datum.value - 0.02) < 1e-6 ? '0.02' : abs(datum.value) < 1e-6 ? '0' : abs(datum.value + 0.02) < 1e-6 ? '−0.02' : abs(datum.value + 0.04) < 1e-6 ? '−0.04' : ''", "title": null}},
   "strokeDash": {"datum": "measured data", "type": "nominal", "scale": {"domain": ["measured data", "second method"], "range": [[1,0],[12,7]]},
     "legend": {"orient": "none", "legendX": 176, "legendY": 14, "title": null, "symbolType": "stroke", "symbolSize": 8464, "symbolStrokeWidth": 1, "symbolStrokeColor": "black", "labelFont": "Liberation Serif", "labelFontSize": 22, "labelColor": "black", "labelOffset": 9, "labelLimit": 400, "clipHeight": 26, "padding": 0, "rowPadding": 0}}
  }},
 {"data": {"name": "second"}, "mark": {"type": "line", "strokeWidth": 1.1}, "encoding": {"x": {"field": "t", "type": "quantitative"}, "y": {"field": "v", "type": "quantitative"}, "strokeDash": {"datum": "second method", "type": "nominal"}}},
 {"data": {"values": [{}]}, "mark": {"type": "rule", "strokeWidth": 1}, "encoding": {"x": {"datum": 0}, "y": {"datum": -0.04}, "y2": {"datum": 0.04}}},
 {"data": {"values": [{}]}, "mark": {"type": "rule", "strokeWidth": 1}, "encoding": {"x": {"datum": 0}, "x2": {"datum": 20}, "y": {"datum": 0}}},
 {"data": {"values": [{}]}, "mark": {"type": "text", "text": "F", "font": "Liberation Serif", "fontSize": 22, "fontStyle": "italic", "align": "left", "baseline": "middle"}, "encoding": {"x": {"datum": -1.153}, "y": {"datum": 0.0471}}},
 {"data": {"values": [{}]}, "mark": {"type": "text", "text": "D", "font": "Liberation Serif", "fontSize": 15, "fontStyle": "italic", "align": "left", "baseline": "middle"}, "encoding": {"x": {"datum": -0.576}, "y": {"datum": 0.0451}}},
 {"data": {"values": [{}]}, "mark": {"type": "text", "text": "[kgf]", "font": "Liberation Serif", "fontSize": 22, "align": "left", "baseline": "middle"}, "encoding": {"x": {"datum": 0.247}, "y": {"datum": 0.0461}}},
 {"data": {"values": [{}]}, "mark": {"type": "text", "text": "t", "font": "Liberation Serif", "fontSize": 22, "fontStyle": "italic", "align": "left", "baseline": "middle"}, "encoding": {"x": {"datum": 21.13}, "y": {"datum": -0.0014}}},
 {"data": {"values": [{}]}, "mark": {"type": "text", "text": "[s]", "font": "Liberation Serif", "fontSize": 22, "align": "left", "baseline": "middle"}, "encoding": {"x": {"datum": 21.97}, "y": {"datum": -0.0014}}}
]},
{"width": 610, "height": 328, "layer": [
 {"data": {"name": "cd1"}, "mark": {"type": "line", "strokeWidth": 1.8},
  "encoding": {
   "x": {"field": "t", "type": "quantitative", "scale": {"domain": [-3.176, 23.254], "nice": false, "zero": false},
     "axis": {"orient": "bottom", "offset": -29.7, "values": [0,2.5,5,7.5,10,12.5,15,17.5,20], "tickSize": 10, "labelPadding": -3, "labelExpr": "datum.value % 5 == 0 ? '' + datum.value : ''", "title": null}},
   "y": {"field": "v", "type": "quantitative", "scale": {"domain": [-3.222, 39.56], "nice": false, "zero": false},
     "axis": {"orient": "left", "offset": -78, "values": [0,5,10,15,20,25,30], "tickSize": 8, "labelPadding": 1, "labelExpr": "datum.value % 10 == 0 ? '' + datum.value : ''", "title": null}},
   "detail": {"field": "seg", "type": "nominal"},
   "order": {"value": null},
   "strokeDash": {"datum": "first method", "type": "nominal", "scale": {"domain": ["first method", "second method"], "range": [[1,0],[12,7]]},
     "legend": {"orient": "none", "legendX": 176, "legendY": -27, "title": null, "symbolType": "stroke", "symbolSize": 8464, "symbolStrokeWidth": 1, "symbolStrokeColor": "black", "labelFont": "Liberation Serif", "labelFontSize": 22, "labelColor": "black", "labelOffset": 9, "labelLimit": 400, "clipHeight": 26, "padding": 0, "rowPadding": 0}}
  }},
 {"data": {"name": "cd2"}, "mark": {"type": "line", "strokeWidth": 1.1}, "encoding": {"x": {"field": "t", "type": "quantitative"}, "y": {"field": "v", "type": "quantitative"}, "strokeDash": {"datum": "second method", "type": "nominal"}}},
 {"data": {"values": [{}]}, "mark": {"type": "rule", "strokeWidth": 1}, "encoding": {"x": {"datum": 0}, "y": {"datum": 0}, "y2": {"datum": 30}}},
 {"data": {"values": [{}]}, "mark": {"type": "rule", "strokeWidth": 1}, "encoding": {"x": {"datum": 0}, "x2": {"datum": 20}, "y": {"datum": 0}}},
 {"data": {"values": [{}]}, "mark": {"type": "text", "text": "C", "font": "Liberation Serif", "fontSize": 22, "fontStyle": "italic", "align": "left", "baseline": "middle"}, "encoding": {"x": {"datum": -1.434}, "y": {"datum": 34.02}}},
 {"data": {"values": [{}]}, "mark": {"type": "text", "text": "D", "font": "Liberation Serif", "fontSize": 15, "fontStyle": "italic", "align": "left", "baseline": "middle"}, "encoding": {"x": {"datum": -0.75}, "y": {"datum": 33.36}}},
 {"data": {"values": [{}]}, "mark": {"type": "text", "text": "t", "font": "Liberation Serif", "fontSize": 22, "fontStyle": "italic", "align": "left", "baseline": "middle"}, "encoding": {"x": {"datum": 21.13}, "y": {"datum": -0.74}}},
 {"data": {"values": [{}]}, "mark": {"type": "text", "text": "[s]", "font": "Liberation Serif", "fontSize": 22, "align": "left", "baseline": "middle"}, "encoding": {"x": {"datum": 21.97}, "y": {"datum": -0.74}}}
]}
]
}
